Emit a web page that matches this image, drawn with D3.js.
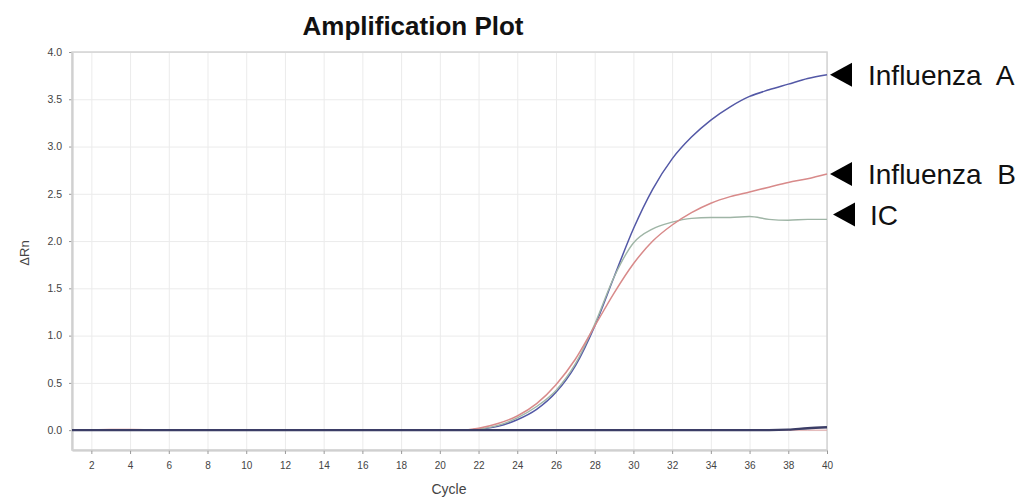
<!DOCTYPE html>
<html>
<head>
<meta charset="utf-8">
<script src="https://cdn.jsdelivr.net/npm/d3@7"></script>
<style>
  body { margin: 0; background: #fff; }
  svg { display: block; font-family: Arial, "Liberation Sans", sans-serif; }
  .grid line { stroke: #ebebeb; }
  .grid .domain { display: none; }
  .axis text { fill: #444; font-size: 10px; }
  .axis line { stroke: #999; }
  .axis .domain { stroke: #c4c4c4; stroke-width: 2; }
</style>
</head>
<body>
<svg id="chart" width="1028" height="497">
  <g id="grid_x" class="grid"></g>
  <g id="grid_y" class="grid"></g>
  <g id="x_axis" class="axis"></g>
  <g id="y_axis" class="axis"></g>
  <g id="lines"></g>
  <g id="labels"></g>
</svg>
<script>
  let cycles = d3.range(1, 41)
  let x_ticks = d3.range(2, 41, 2)
  let y_ticks = [0, 0.5, 1.0, 1.5, 2.0, 2.5, 3.0, 3.5, 4.0]

  // delta Rn per cycle
  let flu_a = [0, 0, 0, 0, 0, 0, 0, 0, 0, 0, 0, 0, 0, 0, 0, 0, 0, 0, 0, 0, 0, 0.01,
    0.04, 0.11, 0.22, 0.40, 0.68, 1.10, 1.62, 2.13, 2.55, 2.87, 3.10, 3.28, 3.42, 3.53, 3.60, 3.66, 3.72, 3.76]
  let flu_b = [0, 0, 0, 0, 0, 0, 0, 0, 0, 0, 0, 0, 0, 0, 0, 0, 0, 0, 0, 0, 0, 0.02,
    0.07, 0.15, 0.28, 0.48, 0.75, 1.10, 1.45, 1.76, 2.00, 2.17, 2.30, 2.40, 2.47, 2.52, 2.57, 2.62, 2.66, 2.71]
  let ic = [0, 0, 0, 0, 0, 0, 0, 0, 0, 0, 0, 0, 0, 0, 0, 0, 0, 0, 0, 0, 0, 0.01,
    0.05, 0.13, 0.25, 0.42, 0.70, 1.12, 1.62, 1.98, 2.13, 2.20, 2.24, 2.25, 2.25, 2.26, 2.23, 2.22, 2.23, 2.23]
  let negative = [0, 0, 0, 0, 0, 0, 0, 0, 0, 0, 0, 0, 0, 0, 0, 0, 0, 0, 0, 0, 0, 0,
    0, 0, 0, 0, 0, 0, 0, 0, 0, 0, 0, 0, 0, 0, 0, 0.005, 0.02, 0.03]
  let negative_b = [0.005, 0.005, 0.01, 0.01, 0.005, 0, 0, 0, 0, 0, 0, 0, 0, 0, 0, 0, 0, 0, 0, 0, 0, 0,
    0, 0, 0, 0, 0, 0, 0, 0, 0, 0, 0, 0, 0, 0, 0, 0, 0, 0]

  let series = [
    {name: "neg_b", values: negative_b, color: "#e0a0a0", width: 1},
    {name: "Influenza A", values: flu_a, color: "#5358a6", width: 1.5},
    {name: "IC", values: ic, color: "#9fb5a6", width: 1.4},
    {name: "Influenza B", values: flu_b, color: "#d88a8a", width: 1.5},
    {name: "neg", values: negative, color: "#3b3d66", width: 2.4}
  ]

  let label_names = ["Influenza  A", "Influenza  B", "IC"]
  let label_values = [3.76, 2.71, 2.28]

  function make_scales(margin) {
    return {
      x: d3.scaleLinear().domain([1, 40]).range([margin.left, 1028 - margin.right]),
      y: d3.scaleLinear().domain([-0.21, 4.0]).range([497 - margin.bottom, margin.top])
    }
  }

  function draw_grid(scales, margin) {
    d3.select("#grid_x")
      .attr("transform", `translate(0, ${497 - margin.bottom})`)
      .call(d3.axisBottom(scales.x).tickValues(x_ticks).tickSize(-(497 - margin.bottom - margin.top)).tickFormat(""))
    d3.select("#grid_y")
      .attr("transform", `translate(${margin.left}, 0)`)
      .call(d3.axisLeft(scales.y).tickValues(y_ticks).tickSize(-(1028 - margin.right - margin.left)).tickFormat(""))
  }

  function draw_axes(scales, margin) {
    let svg = d3.select("#chart")
    d3.select("#x_axis")
      .attr("transform", `translate(0, ${497 - margin.bottom})`)
      .call(d3.axisBottom(scales.x).tickValues(x_ticks).tickSize(4).tickSizeOuter(0).tickPadding(8))
    d3.select("#y_axis")
      .attr("transform", `translate(${margin.left}, 0)`)
      .call(d3.axisLeft(scales.y).tickValues(y_ticks).tickFormat(d3.format(".1f")).tickSize(3).tickSizeOuter(0).tickPadding(7))
    d3.select("#y_axis").selectAll("text").style("font-size", "10.5px")

    // top and right frame
    svg.insert("rect", "#lines")
      .attr("x", margin.left).attr("y", margin.top)
      .attr("width", 1028 - margin.right - margin.left)
      .attr("height", 497 - margin.bottom - margin.top)
      .attr("fill", "none").attr("stroke", "#d4d4d4").attr("stroke-width", 1.5)

    svg.append("text")
      .attr("x", 413).attr("y", 35)
      .attr("text-anchor", "middle")
      .style("font-size", "26px").style("font-weight", "bold").style("fill", "#111")
      .text("Amplification Plot")

    svg.append("text")
      .attr("x", 449).attr("y", 494)
      .attr("text-anchor", "middle")
      .style("font-size", "14px").style("fill", "#444")
      .text("Cycle")

    svg.append("text")
      .attr("transform", "translate(29, 253) rotate(-90)")
      .attr("text-anchor", "middle")
      .style("font-size", "13px").style("fill", "#444")
      .text("ΔRn")
  }

  function draw_lines(scales) {
    let path_generator = values => d3.line()
      .x((d, i) => scales.x(cycles[i]))
      .y(d => scales.y(d))
      .curve(d3.curveMonotoneX)(values)

    d3.select("#lines")
      .selectAll("path")
      .data(series).enter()
      .append("path")
      .attr("d", d => path_generator(d.values))
      .attr("fill", "none")
      .attr("stroke", d => d.color)
      .attr("stroke-width", d => d.width)
  }

  function draw_labels(scales) {
    let g = d3.select("#labels")
      .selectAll("g")
      .data(label_names).enter()
      .append("g")
      .attr("transform", (d, i) => `translate(0, ${scales.y(label_values[i])})`)

    g.append("path")
      .attr("d", (d, i) => i == 2 ? "M833,0L855,-12L855,12Z" : "M830,0L852,-12L852,12Z")
      .attr("fill", "#000")

    g.append("text")
      .attr("x", (d, i) => i == 2 ? 870 : 868)
      .attr("dy", "0.36em")
      .style("font-size", "28px").style("fill", "#111")
      .style("white-space", "pre")
      .attr("xml:space", "preserve")
      .text(d => d)
  }

  function visualize() {
    let margin = {top: 52, right: 201, bottom: 47, left: 72}
    let scales = make_scales(margin)
    draw_grid(scales, margin)
    draw_axes(scales, margin)
    draw_lines(scales)
    draw_labels(scales)
  }

  visualize()
</script>
</body>
</html>
